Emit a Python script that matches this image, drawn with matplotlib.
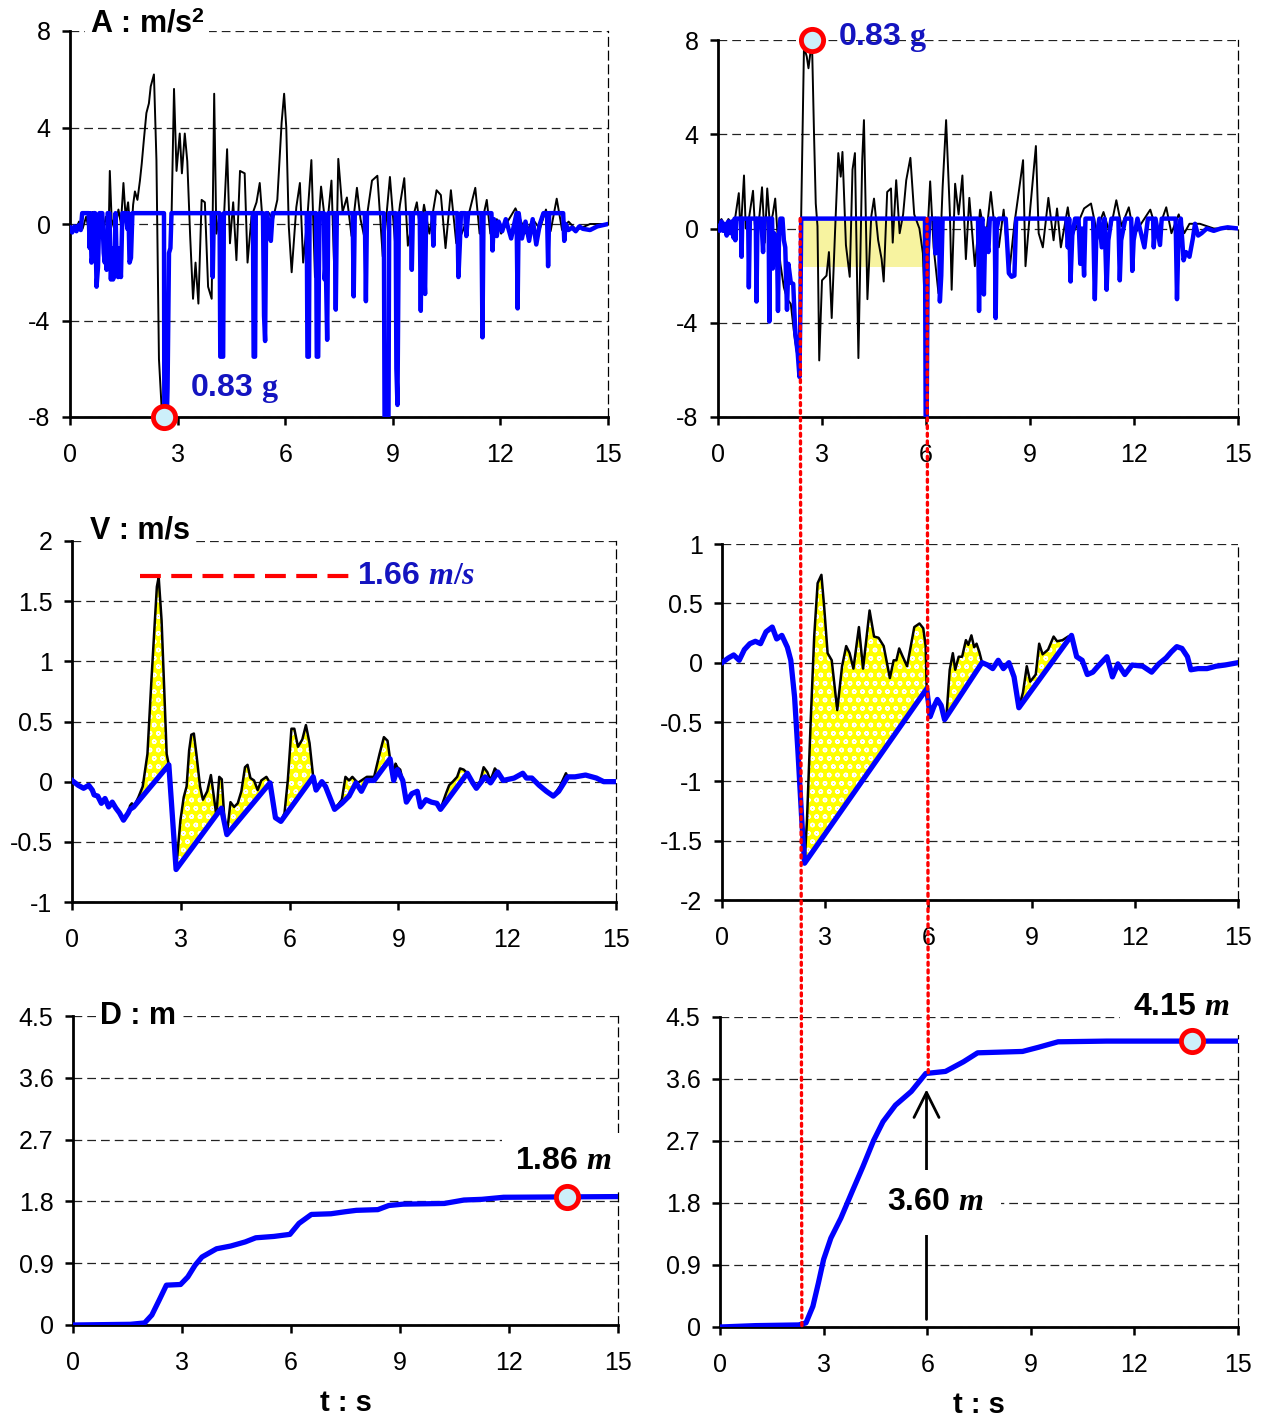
import numpy as np
import matplotlib
matplotlib.use("Agg")
import matplotlib.pyplot as plt
from matplotlib.patches import ConnectionPatch

plt.rcParams["font.family"] = ["Liberation Sans", "DejaVu Sans"]
plt.rcParams["axes.unicode_minus"] = False
plt.rcParams["mathtext.fontset"] = "custom"
plt.rcParams["mathtext.rm"] = "Liberation Serif:bold"
plt.rcParams["mathtext.it"] = "Liberation Serif:italic:bold"
plt.rcParams["mathtext.bf"] = "Liberation Sans:bold"
plt.rcParams["hatch.color"] = "white"
plt.rcParams["hatch.linewidth"] = 1.0

# ---------------- data (t [s], value) ----------------
# acceleration, left run: raw (black) and processed (blue)
acc_left_raw = np.array([
    (0.0, -0.1), (0.15, -0.3), (0.25, 0.1), (0.35, -0.2), (0.45, 0.3), (0.55, -0.4), (0.62, 0.5),
    (0.7, -0.3), (0.8, 0.2), (0.9, -0.5), (1.0, 0.3), (1.08, -0.2), (1.11, 2.2), (1.16, 0.2),
    (1.25, -0.3), (1.35, 0.6), (1.42, 0.0), (1.49, 1.7), (1.55, 0.3), (1.62, 0.9), (1.7, -0.6),
    (1.76, 0.8), (1.81, 1.35), (1.88, 1.0), (1.95, 1.8), (2.0, 2.5), (2.06, 3.5), (2.13, 4.6),
    (2.2, 5.0), (2.25, 5.7), (2.34, 6.2), (2.41, 2.65), (2.48, -5.6), (2.55, -7.5), (2.62, -8.0),
    (2.68, -6.0), (2.74, -2.8), (2.83, 0.2), (2.9, 5.6), (2.97, 2.2), (3.06, 3.75), (3.12, 2.1),
    (3.2, 3.75), (3.27, 2.6), (3.35, -0.5), (3.43, -3.1), (3.5, -1.6), (3.58, -3.3), (3.67, 1.0),
    (3.76, 0.9), (3.85, -2.6), (3.95, -3.1), (4.02, 5.4), (4.08, -0.4), (4.15, 0.2), (4.22, -0.5),
    (4.3, 0.5), (4.38, 3.1), (4.46, -0.8), (4.55, 0.9), (4.64, -1.5), (4.74, 2.2), (4.87, 2.1),
    (4.95, -1.6), (5.06, 0.3), (5.2, 0.9), (5.29, 1.7), (5.38, -0.1), (5.52, 0.5), (5.66, 0.2),
    (5.78, 1.0), (5.9, 4.2), (5.97, 5.4), (6.03, 4.0), (6.1, -0.1), (6.18, -2.0), (6.31, 0.7),
    (6.41, 1.7), (6.5, -1.6), (6.62, 0.3), (6.73, 2.65), (6.83, -2.2), (7.0, 1.55), (7.15, -0.4),
    (7.29, 1.8), (7.4, -3.5), (7.48, 2.7), (7.6, 0.5), (7.72, 1.1), (7.85, -0.5), (8.0, 1.5),
    (8.1, 0.2), (8.2, -0.5), (8.42, 1.8), (8.57, 2.0), (8.72, -1.35), (8.92, 1.95), (9.07, -0.9),
    (9.2, 0.8), (9.32, 1.9), (9.42, -0.9), (9.55, 0.2), (9.67, 0.9), (9.77, -0.3), (9.87, 0.8),
    (10.02, -0.4), (10.22, 1.4), (10.34, 1.2), (10.47, -1.0), (10.62, 1.4), (10.77, -0.8),
    (10.92, -0.4), (11.1, 0.3), (11.3, 1.5), (11.42, -0.4), (11.62, 1.0), (11.72, -0.4),
    (11.9, 0.2), (12.02, -0.4), (12.2, 0.1), (12.42, 0.65), (12.72, -0.4), (12.9, 0.2),
    (13.1, -0.2), (13.27, 0.6), (13.4, -0.3), (13.57, 1.05), (13.72, -0.25), (13.9, 0.1),
    (14.12, -0.25), (14.5, 0.0), (15.0, 0.0)])

acc_left_proc = np.array([
    (0.0, -0.15), (0.06, -0.35), (0.12, -0.1), (0.18, -0.3), (0.24, -0.05), (0.3, -0.25),
    (0.34, 0.45), (0.52, 0.45), (0.55, -1.0), (0.57, 0.45), (0.6, -1.6), (0.63, -1.3), (0.66, 0.45),
    (0.7, 0.45), (0.74, -2.6), (0.78, -1.8), (0.82, 0.45), (0.9, 0.45), (0.94, -1.2), (0.97, -1.6),
    (1.0, -0.5), (1.02, -1.9), (1.05, 0.45), (1.1, 0.45), (1.14, -2.3), (1.17, -1.0), (1.2, -2.3),
    (1.24, -2.1), (1.27, 0.45), (1.3, -1.5), (1.34, -2.2), (1.38, -1.0), (1.42, -2.2), (1.46, 0.45),
    (1.55, 0.45), (1.6, -0.2), (1.63, 0.45), (1.66, -1.6), (1.7, -1.4), (1.74, 0.45),
    (2.62, 0.45), (2.63, -8.0), (2.7, -8.0), (2.72, -6.8), (2.76, -1.2), (2.8, -1.0), (2.83, 0.45),
    (3.95, 0.45), (3.98, -2.2), (4.01, 0.45), (4.17, 0.45), (4.19, -5.5), (4.27, -5.5), (4.29, 0.45),
    (5.1, 0.45), (5.12, -5.5), (5.16, -5.5), (5.18, 0.45), (5.38, 0.45), (5.41, -3.8), (5.44, -4.85),
    (5.47, 0.45), (5.5, 0.45), (5.55, -0.3), (5.6, -0.7), (5.65, 0.45),
    (6.6, 0.45), (6.62, -5.5), (6.66, -5.5), (6.68, 0.45), (6.86, 0.45), (6.88, -5.5), (6.92, -5.5),
    (6.94, -2.0), (6.96, 0.45), (7.08, 0.45), (7.1, -2.3), (7.13, -1.5), (7.17, -4.8), (7.2, 0.45),
    (7.38, 0.45), (7.41, -3.55), (7.44, 0.45), (7.88, 0.45), (7.91, -3.0), (7.94, 0.45),
    (8.22, 0.45), (8.25, -3.2), (8.28, 0.45), (8.75, 0.45), (8.77, -8.0), (8.88, -8.0), (8.9, 0.45),
    (9.08, 0.45), (9.1, -6.0), (9.13, -7.5), (9.17, 0.45), (9.5, 0.45), (9.53, -1.9), (9.56, 0.45),
    (9.75, 0.45), (9.78, -3.6), (9.81, 0.45), (9.9, -2.9), (9.93, 0.45), (10.1, 0.45), (10.13, -0.9),
    (10.16, 0.45), (10.8, 0.45), (10.83, -2.2), (10.87, -0.8), (10.9, 0.45), (11.02, 0.45),
    (11.05, -0.5), (11.1, 0.45), (11.47, 0.45), (11.5, -4.7), (11.53, 0.45), (11.75, 0.45),
    (11.78, -1.1), (11.82, 0.2), (11.9, -0.5), (11.95, 0.1), (12.05, -0.3), (12.15, 0.2),
    (12.3, -0.6), (12.45, 0.45), (12.48, -3.5), (12.51, 0.45), (12.6, -0.6), (12.7, 0.1),
    (12.8, -0.7), (12.9, 0.2), (13.0, -0.85), (13.1, 0.0), (13.2, 0.45), (13.3, 0.45),
    (13.33, -1.75), (13.36, 0.45), (13.75, 0.45), (13.78, -0.7), (13.82, 0.0), (13.9, -0.25),
    (14.0, -0.15), (14.1, -0.3), (14.2, -0.1), (14.3, -0.2), (14.5, -0.25), (14.7, -0.1),
    (14.85, -0.05), (15.0, 0.0)])

# acceleration, right run
acc_right_raw = np.array([
    (0.0, 0.2), (0.1, 0.4), (0.2, 0.1), (0.3, 0.4), (0.4, 0.2), (0.5, 0.5), (0.6, 1.5), (0.65, -0.3),
    (0.75, 2.25), (0.8, 0.0), (0.9, 0.5), (1.01, 1.6), (1.06, 0.2), (1.11, -0.5), (1.2, 0.6),
    (1.27, 1.75), (1.35, -0.6), (1.42, 1.7), (1.5, 0.1), (1.58, 0.6), (1.65, 1.27), (1.72, -0.3),
    (1.8, -1.5), (1.9, -2.5), (2.0, -3.0), (2.1, -3.2), (2.2, -4.5), (2.3, -5.5), (2.35, -6.3),
    (2.4, 0.6), (2.48, 7.7), (2.56, 7.3), (2.61, 6.8), (2.71, 8.0), (2.77, 4.0), (2.82, 1.06),
    (2.87, 0.1), (2.92, -5.6), (3.0, -2.2), (3.13, -2.0), (3.2, -1.0), (3.28, -3.8), (3.38, 0.0),
    (3.47, 3.2), (3.54, 2.2), (3.59, 3.25), (3.69, -0.7), (3.8, -2.05), (3.88, 2.5), (3.95, 3.2),
    (4.05, -5.5), (4.16, 2.9), (4.21, 4.6), (4.31, -3.0), (4.42, 0.5), (4.5, 1.27), (4.62, -0.5),
    (4.72, -1.3), (4.78, -2.25), (4.88, 1.55), (4.99, 1.7), (5.04, -0.6), (5.14, 2.05), (5.24, -0.2),
    (5.34, 0.6), (5.43, 2.05), (5.55, 3.0), (5.66, 0.6), (5.81, 0.0), (5.91, -1.05), (5.99, -4.5),
    (6.05, 0.0), (6.12, 2.0), (6.22, -0.8), (6.36, -2.75), (6.48, 1.76), (6.58, 4.6), (6.69, 0.6),
    (6.74, -2.6), (6.84, 1.9), (6.94, 0.6), (7.05, 2.25), (7.15, -1.3), (7.25, 1.3), (7.41, -1.6),
    (7.56, 0.8), (7.72, -0.5), (7.87, 1.55), (7.98, 0.0), (8.1, -0.8), (8.24, 0.8), (8.4, -1.9),
    (8.55, 0.2), (8.65, 1.27), (8.8, 2.9), (8.87, -1.6), (9.01, 0.9), (9.17, 3.5), (9.25, -0.2),
    (9.37, -0.8), (9.53, 1.3), (9.68, -0.5), (9.78, 0.85), (9.89, -0.8), (10.09, 0.9), (10.2, -0.3),
    (10.35, 0.1), (10.56, 0.85), (10.76, 1.06), (10.92, -0.1), (11.12, 0.7), (11.3, -0.2),
    (11.49, 1.2), (11.64, 0.1), (11.85, 0.9), (12.0, -0.3), (12.16, 0.1), (12.47, 0.8),
    (12.67, -0.2), (12.93, 0.9), (13.08, -0.2), (13.29, 0.6), (13.45, -0.2), (13.6, 0.2),
    (13.9, 0.2), (14.3, 0.0), (15.0, 0.0)])

acc_right_proc = np.array([
    (0.0, 0.1), (0.05, -0.1), (0.1, 0.3), (0.15, -0.1), (0.2, 0.2), (0.25, -0.3), (0.3, 0.3),
    (0.35, -0.2), (0.4, 0.3), (0.45, -0.4), (0.48, 0.42), (0.5, -0.5), (0.53, 0.42), (0.66, 0.42),
    (0.68, -1.2), (0.7, 0.42), (0.87, 0.42), (0.89, -2.5), (0.92, 0.42), (1.09, 0.42), (1.11, -3.1),
    (1.14, 0.42), (1.25, 0.42), (1.3, -1.0), (1.33, 0.42), (1.46, 0.42), (1.48, -3.95), (1.51, 0.42),
    (1.56, 0.42), (1.58, -1.7), (1.62, -0.2), (1.7, -0.5), (1.73, -3.5), (1.76, -0.3), (1.8, 0.42),
    (1.86, 0.42), (1.9, -0.5), (1.94, -0.8), (1.99, -3.45), (2.03, -1.5), (2.1, -2.3), (2.17, -2.35),
    (2.23, -4.45), (2.3, -5.3), (2.35, -6.3), (2.38, -3.0), (2.4, 0.42), (5.97, 0.42), (5.99, -8.0),
    (6.02, -8.0), (6.05, -1.0), (6.1, 0.42), (6.25, 0.42), (6.27, -1.06), (6.3, 0.42), (6.38, 0.42),
    (6.4, -3.1), (6.44, -2.0), (6.48, 0.42), (7.5, 0.42), (7.53, -3.5), (7.56, 0.0), (7.63, 0.42),
    (7.67, -2.8), (7.71, 0.0), (7.8, -1.0), (7.84, 0.42), (7.98, 0.42), (8.01, -3.8), (8.04, 0.0),
    (8.1, 0.42), (8.3, 0.42), (8.39, -1.9), (8.47, -2.05), (8.55, -2.0), (8.6, 0.42), (10.05, 0.42),
    (10.09, -0.8), (10.13, 0.42), (10.17, -2.25), (10.22, -0.3), (10.3, 0.42), (10.4, 0.42),
    (10.45, -1.5), (10.5, 0.0), (10.56, -2.0), (10.6, 0.42), (10.82, 0.42), (10.87, -3.0),
    (10.91, -0.5), (11.0, 0.42), (11.07, -0.8), (11.15, 0.42), (11.21, -2.6), (11.26, -0.5),
    (11.35, 0.42), (11.55, 0.42), (11.59, -2.2), (11.63, -0.5), (11.75, 0.42), (11.92, 0.42),
    (11.95, -1.8), (11.99, -0.5), (12.1, 0.42), (12.3, -0.8), (12.4, 0.42), (12.55, 0.42),
    (12.57, -0.8), (12.62, 0.42), (12.75, -0.7), (12.8, 0.42), (13.2, 0.42), (13.24, -3.0),
    (13.28, -0.5), (13.35, 0.42), (13.43, -1.35), (13.5, -1.0), (13.6, -1.2), (13.7, -0.4),
    (13.76, 0.2), (13.85, -0.3), (13.95, -0.2), (14.1, 0.0), (14.3, -0.1), (14.5, 0.0),
    (14.7, 0.05), (15.0, 0.0)])

# shaded band in the right acceleration panel
band_t = [2.4, 5.99]
band_low = -1.62
band_high = 0.42

# velocity, left run: corrected (blue) + raw humps above it (black)
vel_left = np.array([
    (0.0, 0.01), (0.17, -0.03), (0.32, -0.055), (0.46, -0.03), (0.56, -0.07), (0.61, -0.11),
    (0.71, -0.12), (0.81, -0.18), (0.91, -0.14), (1.01, -0.21), (1.11, -0.17), (1.21, -0.22),
    (1.31, -0.26), (1.42, -0.32), (1.55, -0.26), (1.6, -0.23), (1.7, -0.21), (2.67, 0.14),
    (2.87, -0.73), (4.12, -0.22), (4.27, -0.44), (5.46, -0.01), (5.61, -0.30), (5.76, -0.33),
    (6.65, 0.04), (6.73, -0.07), (6.89, 0.0), (6.99, -0.04), (7.24, -0.23), (7.44, -0.18),
    (7.64, -0.12), (7.83, -0.01), (7.98, -0.08), (8.13, 0.01), (8.33, 0.01), (8.77, 0.19),
    (8.87, 0.01), (8.97, 0.1), (9.12, 0.01), (9.22, -0.17), (9.37, -0.1), (9.52, -0.08),
    (9.61, -0.21), (9.76, -0.15), (9.91, -0.17), (10.06, -0.18), (10.16, -0.23), (10.31, -0.17),
    (10.9, 0.07), (11.05, -0.01), (11.15, -0.055), (11.39, 0.04), (11.54, -0.01), (11.74, 0.08),
    (11.89, 0.01), (12.19, 0.03), (12.43, 0.07), (12.53, 0.03), (12.68, 0.03), (12.88, -0.03),
    (13.08, -0.08), (13.27, -0.12), (13.42, -0.08), (13.67, 0.04), (13.87, 0.04), (14.16, 0.055),
    (14.46, 0.03), (14.66, 0.0), (15.0, 0.0)])

vel_left_humps = [
    np.array([(1.55, -0.26), (1.6, -0.2), (1.65, -0.18), (1.7, -0.21), (1.83, -0.13), (1.95, -0.04),
              (2.08, 0.23), (2.18, 0.79), (2.27, 1.26), (2.34, 1.62), (2.39, 1.70), (2.47, 1.34),
              (2.54, 0.79), (2.61, 0.23), (2.67, 0.14)]),
    np.array([(2.87, -0.73), (2.99, -0.32), (3.08, -0.13), (3.16, -0.04), (3.23, 0.26), (3.29, 0.39),
              (3.36, 0.40), (3.43, 0.23), (3.53, -0.04), (3.61, -0.15), (3.73, -0.08), (3.83, 0.055),
              (3.9, -0.1), (3.98, -0.28), (4.06, 0.04), (4.13, 0.02), (4.2, -0.3), (4.27, -0.44)]),
    np.array([(4.27, -0.44), (4.37, -0.17), (4.47, -0.21), (4.57, -0.18), (4.67, -0.08), (4.77, 0.12),
              (4.84, 0.14), (4.92, 0.03), (5.02, 0.01), (5.12, -0.07), (5.22, 0.01), (5.36, 0.04),
              (5.46, -0.01)]),
    np.array([(5.76, -0.33), (5.86, -0.26), (5.95, 0.01), (6.05, 0.44), (6.13, 0.44), (6.23, 0.29),
              (6.35, 0.35), (6.45, 0.47), (6.55, 0.32), (6.65, 0.04)]),
    np.array([(7.24, -0.23), (7.44, -0.15), (7.54, 0.04), (7.64, 0.01), (7.73, 0.04), (7.88, -0.01),
              (8.13, 0.04), (8.33, 0.04), (8.48, 0.23), (8.6, 0.37), (8.7, 0.34), (8.77, 0.19)]),
    np.array([(8.87, 0.01), (8.92, 0.15), (8.97, 0.12), (9.05, 0.1), (9.12, 0.01)]),
    np.array([(10.16, -0.23), (10.31, -0.1), (10.4, -0.03), (10.5, 0.0), (10.62, 0.04), (10.7, 0.11),
              (10.8, 0.1), (10.9, 0.07)]),
    np.array([(11.15, -0.055), (11.25, 0.0), (11.35, 0.12), (11.45, 0.08), (11.54, 0.01),
              (11.66, 0.11), (11.74, 0.08)]),
    np.array([(13.27, -0.12), (13.45, -0.04), (13.62, 0.07), (13.67, 0.04)]),
]

# velocity, right run
vel_right = np.array([
    (0.0, 0.0), (0.19, 0.04), (0.34, 0.065), (0.5, 0.02), (0.65, 0.11), (0.81, 0.16), (0.97, 0.18),
    (1.12, 0.16), (1.28, 0.26), (1.46, 0.30), (1.59, 0.2), (1.74, 0.23), (1.9, 0.13), (2.0, 0.02),
    (2.11, -0.29), (2.21, -0.76), (2.32, -1.33), (2.4, -1.69), (5.95, -0.22), (6.05, -0.455),
    (6.16, -0.37), (6.26, -0.31), (6.37, -0.36), (6.47, -0.48), (7.56, 0.0), (7.72, -0.02),
    (7.87, -0.05), (8.03, 0.02), (8.18, -0.05), (8.34, 0.0), (8.49, -0.12), (8.63, -0.38),
    (10.16, 0.23), (10.31, 0.05), (10.47, 0.02), (10.62, -0.1), (10.78, -0.08), (10.93, -0.03),
    (11.19, 0.05), (11.35, -0.12), (11.51, -0.01), (11.71, -0.1), (11.92, -0.02), (12.23, -0.03),
    (12.49, -0.08), (12.7, -0.01), (12.91, 0.04), (13.06, 0.09), (13.22, 0.135), (13.37, 0.12),
    (13.53, 0.05), (13.63, -0.06), (13.84, -0.05), (14.1, -0.05), (14.36, -0.03), (14.62, -0.02),
    (15.0, 0.0)])

vel_right_humps = [
    np.array([(2.4, -1.69), (2.47, -1.33), (2.58, -0.48), (2.68, 0.22), (2.78, 0.67), (2.89, 0.74),
              (2.97, 0.47), (3.07, 0.08), (3.19, 0.02), (3.35, -0.4), (3.49, -0.03), (3.61, 0.14),
              (3.71, 0.08), (3.82, -0.05), (3.98, 0.3), (4.1, -0.05), (4.29, 0.44), (4.42, 0.22),
              (4.55, 0.21), (4.7, 0.14), (4.88, -0.13), (4.99, 0.02), (5.07, 0.02), (5.15, 0.12),
              (5.27, 0.04), (5.38, -0.03), (5.59, 0.3), (5.74, 0.33), (5.85, 0.29), (5.92, 0.14),
              (5.95, -0.22)]),
    np.array([(6.47, -0.48), (6.52, -0.47), (6.62, -0.06), (6.71, 0.08), (6.78, -0.06), (6.88, 0.05),
              (6.98, 0.05), (7.09, 0.19), (7.16, 0.15), (7.25, 0.23), (7.33, 0.13), (7.4, 0.16),
              (7.48, 0.09), (7.56, 0.0)]),
    np.array([(8.63, -0.38), (8.75, -0.25), (8.86, -0.03), (8.96, -0.16), (9.12, -0.1), (9.22, 0.16),
              (9.32, 0.07), (9.48, 0.11), (9.64, 0.22), (9.74, 0.18), (9.9, 0.19), (10.06, 0.22),
              (10.16, 0.23)]),
]

# displacement
disp_left = np.array([
    (0.0, 0.0), (1.58, 0.01), (1.97, 0.03), (2.17, 0.145), (2.37, 0.36), (2.57, 0.58), (2.96, 0.59),
    (3.16, 0.7), (3.36, 0.87), (3.55, 0.99), (3.95, 1.11), (4.34, 1.15), (4.74, 1.21), (5.03, 1.27),
    (5.53, 1.29), (5.97, 1.32), (6.22, 1.48), (6.56, 1.61), (7.1, 1.62), (7.5, 1.65), (7.8, 1.67),
    (8.39, 1.68), (8.69, 1.74), (9.08, 1.76), (10.22, 1.77), (10.76, 1.82), (11.25, 1.83),
    (11.85, 1.86), (15.0, 1.87)])

disp_right = np.array([
    (0.0, 0.0), (1.04, 0.02), (2.28, 0.03), (2.49, 0.06), (2.69, 0.3), (2.85, 0.64), (3.0, 0.98),
    (3.21, 1.29), (3.5, 1.58), (3.83, 1.97), (4.14, 2.33), (4.45, 2.71), (4.72, 2.98), (5.08, 3.22),
    (5.54, 3.42), (5.96, 3.68), (6.53, 3.71), (7.05, 3.85), (7.46, 3.98), (8.76, 4.0), (9.22, 4.06),
    (9.79, 4.14), (11.19, 4.15), (15.0, 4.15)])

# marked points and window
peak_acc_left = (2.62, -8.0)
peak_acc_right = (2.71, 8.0)
end_disp_left = (13.6, 1.87)
end_disp_right = (13.68, 4.15)
peak_vel_left = 1.71
window = (2.37, 6.03)
disp_at_window_end = 3.68

# ---------------- figure ----------------
W, H = 1263, 1418
fig = plt.figure(figsize=(W / 100, H / 100), dpi=100)


def add_ax(l, t, r, b):
    return fig.add_axes([l / W, 1 - b / H, (r - l) / W, (b - t) / H])


def style(ax, ylim, yticks):
    ax.set_xlim(0, 15)
    ax.set_xticks(range(0, 16, 3))
    ax.set_ylim(*ylim)
    ax.set_yticks(yticks)
    ax.yaxis.set_major_formatter(plt.FuncFormatter(lambda v, p: "%g" % v))
    ax.yaxis.grid(True, linestyle=(0, (7, 4)), color="#222222", lw=0.9)
    ax.set_axisbelow(True)
    ax.spines["top"].set_visible(False)
    ax.spines["right"].set_linestyle((0, (7, 4)))
    ax.spines["right"].set_linewidth(0.9)
    ax.spines["left"].set_linewidth(2)
    ax.spines["bottom"].set_linewidth(2)
    ax.tick_params(direction="out", length=6, width=1.8, labelsize=18)
    ax.tick_params(axis="x", pad=13)
    ax.tick_params(axis="y", pad=8)


BLUE = "#0000ff"
TXTBLUE = "#1414c0"
CIRCLE = dict(marker="o", ms=16, mfc="#cdeffa", mec="red", mew=3.5, clip_on=False, zorder=6)

axAl = add_ax(70, 31, 608, 417)
axAr = add_ax(718, 40, 1238, 417)
axVl = add_ax(72, 541, 616, 902)
axVr = add_ax(722, 544, 1238, 900)
axDl = add_ax(73, 1016, 618, 1325)
axDr = add_ax(720, 1017, 1238, 1327)

style(axAl, (-8, 8), [-8, -4, 0, 4, 8])
style(axAr, (-8, 8), [-8, -4, 0, 4, 8])
style(axVl, (-1, 2), [-1, -0.5, 0, 0.5, 1, 1.5, 2])
style(axVr, (-2, 1), [-2, -1.5, -1, -0.5, 0, 0.5, 1])
d_ticks = [0, 0.9, 1.8, 2.7, 3.6, 4.5]
style(axDl, (0, 4.5), d_ticks)
style(axDr, (0, 4.5), d_ticks)

# acceleration panels
axAr.fill_between(band_t, band_low, band_high, color="#f7f3a0", lw=0, zorder=1)
for ax, raw, proc in [(axAl, acc_left_raw, acc_left_proc), (axAr, acc_right_raw, acc_right_proc)]:
    ax.plot(raw[:, 0], raw[:, 1], color="black", lw=1.4, zorder=2)
    ax.plot(proc[:, 0], proc[:, 1], color=BLUE, lw=3.2, zorder=3)

axAl.plot(*peak_acc_left, **CIRCLE)
axAr.plot(*peak_acc_right, **CIRCLE)
axAl.text(3.35, -6.8, "0.83 $\\mathrm{g}$", color=TXTBLUE, fontsize=23, fontweight="bold",
          va="center", ha="left", zorder=7)
axAr.text(3.46, 8.1, "0.83 $\\mathrm{g}$", color=TXTBLUE, fontsize=23, fontweight="bold",
          va="center", ha="left", zorder=7, clip_on=False)

# velocity panels
for ax, blue, humps in [(axVl, vel_left, vel_left_humps), (axVr, vel_right, vel_right_humps)]:
    for h in humps:
        t0, t1 = h[0, 0], h[-1, 0]
        sel = (blue[:, 0] > t0) & (blue[:, 0] < t1)
        px = np.concatenate([h[:, 0], blue[sel, 0][::-1]])
        py = np.concatenate([h[:, 1], blue[sel, 1][::-1]])
        ax.fill(px, py, facecolor="#ffff00", edgecolor="white", hatch="oo", lw=0, zorder=1)
        ax.plot(h[:, 0], h[:, 1], color="black", lw=1.8, zorder=2)
    ax.plot(blue[:, 0], blue[:, 1], color=BLUE, lw=3.8, zorder=3, solid_joinstyle="round")

axVl.plot([1.87, 7.66], [peak_vel_left, peak_vel_left], color="red", lw=3, dashes=(5, 2.5), zorder=4)
axVl.text(7.86, peak_vel_left, "1.66 $m/s$", color=TXTBLUE, fontsize=23, fontweight="bold",
          va="center", ha="left", zorder=7)

# displacement panels
axDl.plot(disp_left[:, 0], disp_left[:, 1], color=BLUE, lw=3.8, zorder=3)
axDr.plot(disp_right[:, 0], disp_right[:, 1], color=BLUE, lw=3.8, zorder=3)
axDl.plot(*end_disp_left, **CIRCLE)
axDr.plot(*end_disp_right, **CIRCLE)

white = dict(boxstyle="square,pad=0.4", fc="white", ec="none")
axDl.text(13.5, 2.39, "1.86 $m$", fontsize=23, fontweight="bold", ha="center", va="center",
          bbox=white, zorder=5)
axDr.text(13.35, 4.64, "4.15 $m$", fontsize=23, fontweight="bold", ha="center", va="center",
          bbox=white, zorder=5, clip_on=False)
axDr.annotate("", xy=(window[1] - 0.05, 3.49), xytext=(window[1] - 0.05, 0.07),
              arrowprops=dict(arrowstyle="->,head_length=0.9,head_width=0.45", lw=2,
                              color="black", mutation_scale=20), zorder=4)
axDr.text(6.22, 1.81, "3.60 $m$", fontsize=23, fontweight="bold", ha="center", va="center",
          bbox=dict(boxstyle="square,pad=0.55", fc="white", ec="none"), zorder=5)

# panel titles
title_box = dict(boxstyle="square,pad=0.15", fc="white", ec="none")
axAl.text(0.037, 1.016, "A : m/s$^{\\mathbf{2}}$", transform=axAl.transAxes, fontsize=22,
          fontweight="bold", va="center", ha="left", bbox=title_box)
axVl.text(0.033, 1.03, "V : m/s", transform=axVl.transAxes, fontsize=22,
          fontweight="bold", va="center", ha="left", bbox=title_box)
axDl.text(0.05, 1.0, "D : m", transform=axDl.transAxes, fontsize=22,
          fontweight="bold", va="center", ha="left", bbox=title_box)

for ax in (axDl, axDr):
    ax.set_xlabel("t : s", fontsize=21, fontweight="bold", labelpad=10)

# red dotted window lines through the right column
for t_end, d_end in [(window[0], 0.0), (window[1], disp_at_window_end)]:
    cp = ConnectionPatch(xyA=(t_end, band_high), coordsA="data", axesA=axAr,
                         xyB=(t_end, d_end), coordsB="data", axesB=axDr,
                         color="red", lw=2.4, linestyle=(0, (0.9, 1.4)), zorder=10)
    fig.add_artist(cp)

fig.savefig("out.png", dpi=100)
